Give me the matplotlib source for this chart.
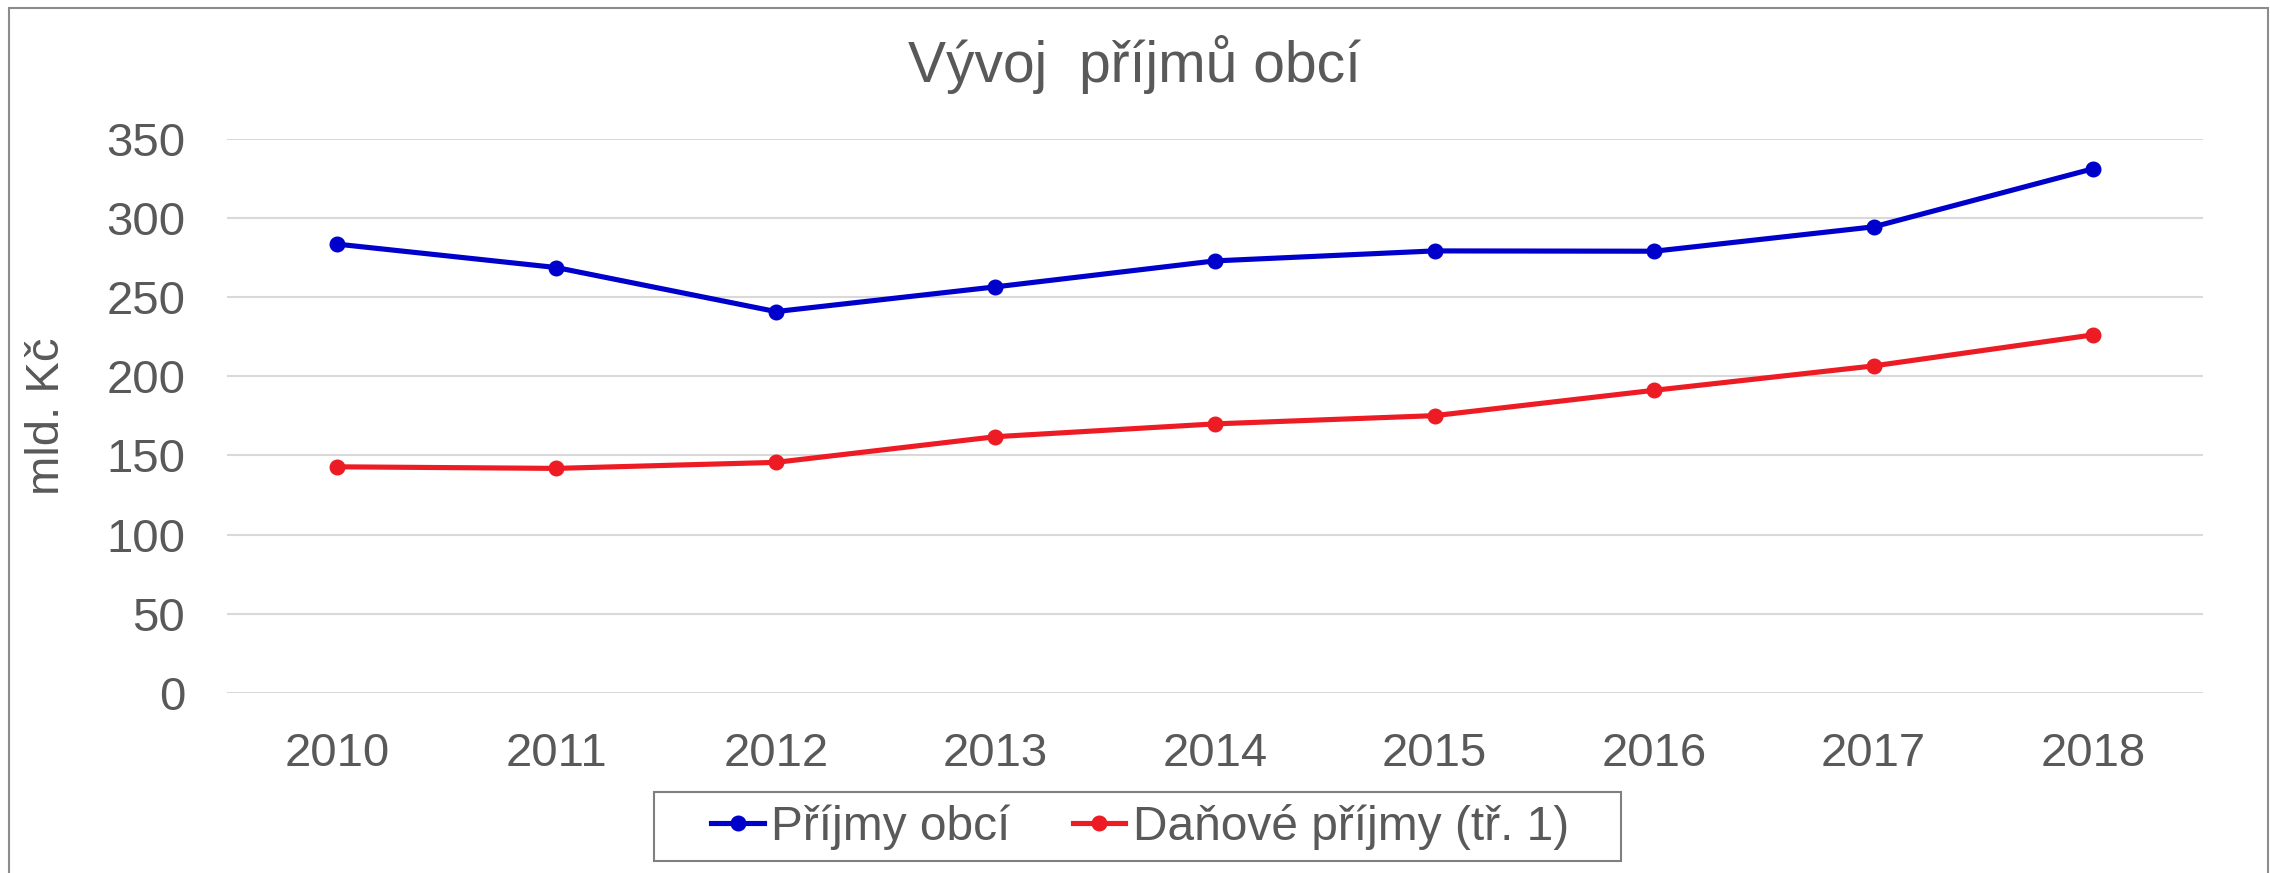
import matplotlib
matplotlib.use("Agg")
import matplotlib.pyplot as plt
from matplotlib.patches import Rectangle

years = ["2010", "2011", "2012", "2013", "2014", "2015", "2016", "2017", "2018"]
prijmy_obci = [283.4, 268.6, 240.8, 256.4, 272.8, 279.1, 278.9, 294.3, 331.0]
danove_prijmy = [142.8, 141.8, 145.6, 161.8, 169.9, 175.1, 191.1, 206.5, 226.1]
y_ticks = [0, 50, 100, 150, 200, 250, 300, 350]

TXT = "#595959"
plt.rcParams["font.family"] = ["Liberation Sans", "DejaVu Sans"]

W, H = 2270, 873
fig = plt.figure(figsize=(W / 100, H / 100), dpi=100)
ax = fig.add_axes([227 / W, 1 - 693 / H, (2203 - 227) / W, (693 - 138.6) / H])

x = list(range(len(years)))
ax.plot(x, prijmy_obci, "-o", color="#0000CC", lw=3.7, ms=10.5, label="Příjmy obcí", zorder=4)
ax.plot(x, danove_prijmy, "-o", color="#ED1C24", lw=3.7, ms=10.5, label="Daňové příjmy (tř. 1)", zorder=4)

ax.set_xlim(-0.5, len(years) - 0.5)
ax.set_ylim(0, 350)
ax.set_yticks(y_ticks)
ax.set_xticks(x)
ax.set_xticklabels(years)
ax.tick_params(axis="both", length=0, labelsize=34, labelcolor=TXT)
ax.tick_params(axis="y", pad=30)
ax.tick_params(axis="x", pad=28)
ax.grid(axis="y", color="#D9D9D9", lw=1.5)
ax.set_axisbelow(True)
for s in ax.spines.values():
    s.set_visible(False)

ax.set_ylabel("mld. Kč", fontsize=34, color=TXT)
ax.yaxis.set_label_coords(-0.080, 0.5)

fig.text(0.5, 1 - 82.5 / H, "Vývoj  příjmů obcí", ha="center", va="baseline",
         fontsize=41, color=TXT)

# legend without its own frame; box drawn separately to get the wide side padding
fig.legend(loc="center", bbox_to_anchor=(1140 / W, 1 - 826.5 / H), ncol=2,
           fontsize=34.5, frameon=False, handlelength=1.1,
           handletextpad=0.15, columnspacing=1.3, borderpad=0.2,
           labelcolor=TXT)
fig.add_artist(Rectangle((654 / W, 1 - 861 / H), (1621 - 654) / W, (861 - 792) / H,
                         transform=fig.transFigure, fill=False,
                         edgecolor="#7F7F7F", lw=1.5))

# outer chart border
fig.add_artist(Rectangle((9 / W, -0.05), (2268 - 9) / W, 1.05 - 8 / H,
                         transform=fig.transFigure, fill=False,
                         edgecolor="#8C8C8C", lw=1.5))

plt.savefig("out.png", dpi=100)
print("saved out.png")
